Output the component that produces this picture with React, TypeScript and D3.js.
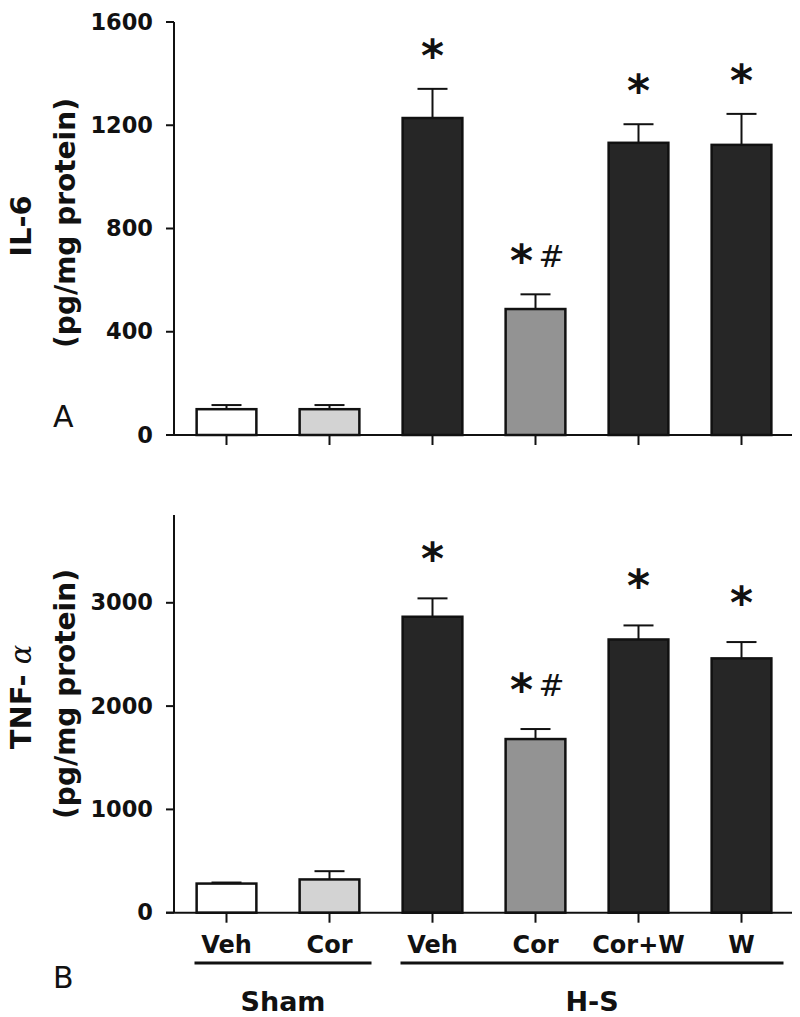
import React from "react";
import * as d3 from "d3";

// ---------- data ----------
const categories = ["Veh", "Cor", "Veh", "Cor", "Cor+W", "W"];
const groupNames = ["Sham", "H-S"];
const groupMembers = [[0, 1], [2, 3, 4, 5]];
const barFills = ["#ffffff", "#d3d3d3", "#262626", "#939393", "#262626", "#262626"];
const marks = ["", "", "*", "*#", "*", "*"];

const il6Values = [100, 100, 1228, 488, 1132, 1124];
const il6Errors = [16, 16, 113, 57, 72, 120];
const il6Ticks = [0, 400, 800, 1200, 1600];

const tnfValues = [282, 322, 2865, 1681, 2645, 2462];
const tnfErrors = [10, 80, 178, 97, 136, 158];
const tnfTicks = [0, 1000, 2000, 3000];

const FONT = "'DejaVu Sans', 'Liberation Sans', Arial, sans-serif";

const x = d3
  .scaleBand<number>()
  .domain(d3.range(categories.length))
  .range([175, 793])
  .paddingInner(0.42)
  .paddingOuter(0.21);

const AXIS_X = 174;
const X_END = 792;

type PanelProps = {
  values: number[];
  errors: number[];
  ticks: number[];
  yMax: number;
  y0: number;
  y1: number;
  letter: string;
  letterY: number;
  labelMain: React.ReactNode;
  labelY: number;
  markGap: number;
};

function Star({ cx, cy }: { cx: number; cy: number }) {
  return (
    <text
      x={cx}
      y={cy + 20}
      textAnchor="middle"
      fontFamily={FONT}
      fontWeight="bold"
      fontSize={44}
      fill="#111"
    >
      *
    </text>
  );
}

function Panel(p: PanelProps) {
  const y = d3.scaleLinear().domain([0, p.yMax]).range([p.y0, p.y1]);
  const bw = x.bandwidth();
  return (
    <g>
      {/* bars */}
      {p.values.map((v, i) => {
        const bx = x(i)!;
        const cx = bx + bw / 2;
        const top = y(v);
        const capY = y(v + p.errors[i]);
        const markY = capY - p.markGap;
        return (
          <g key={i}>
            <line x1={cx} x2={cx} y1={top} y2={capY} stroke="#111" strokeWidth={2} />
            <line x1={cx - 15} x2={cx + 15} y1={capY} y2={capY} stroke="#111" strokeWidth={2} />
            <rect
              x={bx}
              y={top}
              width={bw}
              height={p.y0 - top}
              fill={barFills[i]}
              stroke="#111"
              strokeWidth={2.5}
            />
            {marks[i] === "*" && <Star cx={cx} cy={markY} />}
            {marks[i] === "*#" && (
              <g>
                <Star cx={cx - 14} cy={markY} />
                <text
                  x={cx + 16}
                  y={markY + 11}
                  textAnchor="middle"
                  fontFamily={FONT}
                  fontSize={31}
                  fill="#111"
                >
                  #
                </text>
              </g>
            )}
          </g>
        );
      })}
      {/* y axis */}
      <line x1={AXIS_X} x2={AXIS_X} y1={p.y1} y2={p.y0} stroke="#111" strokeWidth={2} />
      {p.ticks.map((t) => (
        <g key={t}>
          <line x1={AXIS_X - 8} x2={AXIS_X} y1={y(t)} y2={y(t)} stroke="#111" strokeWidth={2} />
          <text
            x={153}
            y={y(t) + 7.5}
            textAnchor="end"
            fontFamily={FONT}
            fontWeight="bold"
            fontSize={22.5}
            fill="#111"
          >
            {t}
          </text>
        </g>
      ))}
      {/* x axis */}
      <line x1={AXIS_X - 8} x2={X_END} y1={p.y0} y2={p.y0} stroke="#111" strokeWidth={2} />
      {categories.map((_, i) => {
        const cx = x(i)! + bw / 2;
        return (
          <line key={i} x1={cx} x2={cx} y1={p.y0} y2={p.y0 + 10} stroke="#111" strokeWidth={2} />
        );
      })}
      {/* y label */}
      <text
        transform={`translate(31,${p.labelY}) rotate(-90)`}
        textAnchor="middle"
        fontFamily={FONT}
        fontWeight="bold"
        fontSize={29}
        fill="#111"
      >
        {p.labelMain}
      </text>
      <text
        transform={`translate(75,${p.labelY - 3}) rotate(-90)`}
        textAnchor="middle"
        fontFamily={FONT}
        fontWeight="bold"
        fontSize={28}
        fill="#111"
      >
        (pg/mg protein)
      </text>
      {/* panel letter */}
      <text x={53} y={p.letterY} fontFamily={FONT} fontSize={30} fill="#111">
        {p.letter}
      </text>
    </g>
  );
}

export default function App() {
  const bw = x.bandwidth();
  const center = (i: number) => x(i)! + bw / 2;
  return (
    <svg
      width={800}
      height={1017}
      style={{ position: "absolute", left: 0, top: 0, background: "#fff" }}
    >
      <rect width={800} height={1017} fill="#fff" />
      <Panel
        values={il6Values}
        errors={il6Errors}
        ticks={il6Ticks}
        yMax={1600}
        y0={435}
        y1={22}
        letter="A"
        letterY={427}
        labelMain="IL-6"
        labelY={226}
        markGap={38}
      />
      <Panel
        values={tnfValues}
        errors={tnfErrors}
        ticks={tnfTicks}
        yMax={3850}
        y0={912.7}
        y1={515}
        letter="B"
        letterY={988}
        labelMain={
          <>
            TNF-{"\u00a0"}
            <tspan fontFamily="'DejaVu Serif', serif" fontStyle="italic" fontWeight="normal">
              α
            </tspan>
          </>
        }
        labelY={697}
        markGap={44}
      />
      {/* category labels */}
      {categories.map((c, i) => (
        <text
          key={i}
          x={center(i)}
          y={953}
          textAnchor="middle"
          fontFamily={FONT}
          fontWeight="bold"
          fontSize={24}
          fill="#111"
        >
          {c}
        </text>
      ))}
      {/* group lines */}
      {groupMembers.map((m, gi) => {
        const xa = center(m[0]) - 32;
        const xb = center(m[m.length - 1]) + 42;
        return (
          <g key={gi}>
            <line x1={xa} x2={xb} y1={963} y2={963} stroke="#111" strokeWidth={3} />
            <text
              x={(xa + xb) / 2}
              y={1011}
              textAnchor="middle"
              fontFamily={FONT}
              fontWeight="bold"
              fontSize={27}
              fill="#111"
            >
              {groupNames[gi]}
            </text>
          </g>
        );
      })}
    </svg>
  );
}
